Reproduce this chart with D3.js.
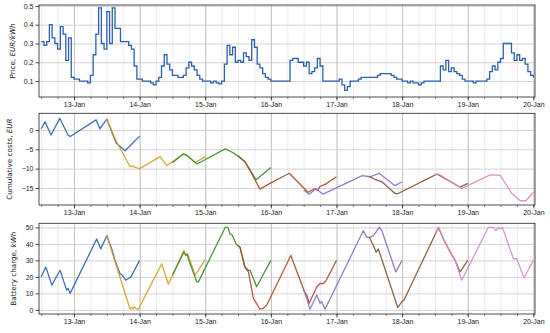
<!DOCTYPE html>
<html>
<head>
<meta charset="utf-8">
<script src="https://cdn.jsdelivr.net/npm/d3@7"></script>
<style>
body { margin: 0; background: #fff; }
svg { font-family: "DejaVu Sans", sans-serif; }
.tick text { font-size: 7px; fill: #222; }
.domain { display: none; }
</style>
</head>
<body>
<svg></svg>
<script>
// hours counted from 12-Jan 12:00
const startTime = new Date(2023, 0, 12, 12);

// hourly price, EUR/kWh
const price = [
  0.31,0.29,0.31,0.40,0.33,0.30,0.27,0.39,0.35,0.21,0.33,0.12,
  0.11,0.11,0.10,0.10,0.10,0.09,0.13,0.24,0.35,0.49,0.30,0.27,
  0.47,0.30,0.49,0.38,0.38,0.31,0.31,0.31,0.29,0.27,0.18,0.11,
  0.11,0.10,0.10,0.10,0.09,0.08,0.10,0.12,0.18,0.24,0.19,0.16,
  0.13,0.13,0.12,0.12,0.13,0.17,0.20,0.18,0.16,0.13,0.11,0.10,
  0.10,0.10,0.09,0.10,0.09,0.085,0.10,0.19,0.29,0.24,0.28,0.20,
  0.21,0.20,0.25,0.23,0.21,0.32,0.28,0.19,0.17,0.14,0.12,0.11,
  0.10,0.10,0.10,0.10,0.10,0.10,0.10,0.21,0.22,0.22,0.20,0.20,
  0.18,0.20,0.14,0.15,0.17,0.22,0.18,0.10,0.10,0.10,0.10,0.10,
  0.10,0.11,0.08,0.05,0.07,0.10,0.10,0.10,0.11,0.12,0.12,0.12,
  0.12,0.12,0.12,0.13,0.14,0.14,0.14,0.14,0.13,0.12,0.11,0.11,
  0.10,0.10,0.09,0.10,0.09,0.09,0.08,0.09,0.10,0.10,0.10,0.10,
  0.10,0.10,0.18,0.16,0.21,0.15,0.17,0.15,0.14,0.13,0.11,0.10,
  0.10,0.10,0.09,0.10,0.10,0.10,0.10,0.11,0.15,0.18,0.16,0.20,
  0.22,0.30,0.30,0.30,0.25,0.21,0.24,0.21,0.22,0.19,0.15,0.13,0.12
];

// optimisation runs, one per day: [hour, value]
const costBlue = [[0,0.3],[1.4,2.1],[3.6,-1.3],[6.8,3.0],[9.8,-1.3],[10.6,-1.7],[20.1,2.6],[21.5,0.3],[24,2.8],[27.4,-3.4],[30.7,-5.4],[36,-1.6]];
const costOrange = [[24,2.8],[27.5,-3],[32.5,-9.5],[33.6,-9.3],[34.3,-9.7],[36,-10],[43.5,-6.9],[46,-9.2],[51.9,-6.3],[53,-6.5],[56.3,-8.4],[60,-6.9]];
const costGreen = [[48,-8.5],[51.9,-6.2],[53,-6.4],[57,-8.8],[67.3,-4.9],[69.1,-5.5],[70.9,-6.2],[74.5,-8.2],[76.4,-10.4],[78.6,-12.9],[84,-9.7]];
const costRed = [[72,-6.6],[74.5,-8.2],[76.4,-10.5],[80,-15.3],[83.7,-13.8],[90.7,-11.2],[97.6,-16.1],[100,-15.2],[101,-15.6],[102,-14.6],[104,-14.0],[108,-12.1]];
const costPurple = [[96,-15.5],[98,-16.6],[100.5,-15.2],[103.1,-16.6],[117.4,-11.8],[120.3,-12.1],[123.6,-11.2],[129.4,-14.4],[132,-13.4]];
const costBrown = [[120,-12.0],[122.1,-12.8],[124.6,-13.4],[129.4,-16.4],[130.4,-16.5],[144.7,-11.4],[153.2,-14.8],[156,-13.8]];
const costPink = [[144,-11.6],[145.3,-11.4],[153.8,-15.1],[164.2,-11.6],[167.8,-11.7],[172.1,-16.4],[175.2,-18.3],[177.3,-18.3],[180,-16.1]];

const chargeBlue = [[0,20],[1.7,26],[3.9,15],[6.9,24],[9.3,12],[9.8,13],[10.6,10],[20.3,43],[21.8,37],[24,45],[25.8,37],[27,30],[28.8,22],[29.7,21],[30.9,18],[31.9,19],[32.8,20],[36,30]];
const chargeOrange = [[24,45],[32.5,0.5],[33.1,1.5],[33.6,0.5],[34.1,2],[34.7,0.8],[35.5,0.3],[44.1,28],[46.5,15.5],[52.2,36],[52.9,33],[53.8,33],[56.3,21],[60,30.5]];
const chargeGreen = [[48,21],[52.2,35],[52.9,33],[53.4,34],[53.8,31],[56.9,17],[57.5,17],[67.3,50],[68.3,50],[69.1,46],[69.8,45.5],[71.3,40],[72.7,38],[74.5,26],[75.8,24],[76.4,24],[78.8,14],[84,30]];
const chargeRed = [[72,39],[72.7,38],[74.5,26],[75.8,23],[77.6,7],[80,0.4],[81.3,1],[82.5,3],[91.3,33],[96.3,11],[97.1,9],[98,4],[100.8,14],[102,16],[103.2,16],[104.1,17.5],[108,30]];
const chargePurple = [[96,12],[97.1,7],[98.3,0.4],[100.8,9],[102,4],[102.6,5],[103.8,0.4],[117.8,48],[119.1,44],[120.3,44],[121.5,45],[123.6,50],[124.6,48],[129.7,23],[132,30]];
const chargeBrown = [[120,44],[121.5,39],[122.5,35],[123.3,37],[130.4,1.4],[131.9,5],[132.7,6],[145.3,50],[147.1,43],[149.6,35],[151.4,30],[153.2,23],[156,30]];
const chargePink = [[144,46],[145.3,50],[147.1,43],[149.6,35],[151.4,30],[153.8,18],[163.5,50],[165.4,50],[166.3,48],[167.2,50],[167.8,49],[168.7,50],[172.7,31],[173.9,31],[176.6,19.5],[180,30]];

const costRuns = [costBlue, costOrange, costGreen, costRed, costPurple, costBrown, costPink];
const chargeRuns = [chargeBlue, chargeOrange, chargeGreen, chargeRed, chargePurple, chargeBrown, chargePink];
const runColors = ["#2d5fae", "#d2a11e", "#3c8a2c", "#a34e2a", "#8b6bc6", "#7b5535", "#d58bc9"];

const priceTicks = [0.1, 0.2, 0.3, 0.4, 0.5];
const costTicks = [-15, -10, -5, 0];
const chargeTicks = [0, 10, 20, 30, 40, 50];

const toDate = h => new Date(+startTime + h * 3600e3);

const svg = d3.select("svg").attr("width", 550).attr("height", 333);

const x = d3.scaleTime()
  .domain([toDate(-0.8), toDate(180.6)])
  .range([39, 535]);

const panels = [
  {top: 5, bottom: 97, y0: 0.015, y1: 0.505, ticks: priceTicks, fmt: d3.format(".1f"), label: ["Price, ", "EUR/kWh"], lx: 15},
  {top: 113.3, bottom: 205, y0: -19.4, y1: 4.3, ticks: costTicks, fmt: d3.format("d"), label: ["Cumulative costs, ", "EUR"], lx: 11.5},
  {top: 223.3, bottom: 314, y0: -2.5, y1: 52.5, ticks: chargeTicks, fmt: d3.format("d"), label: ["Battery charge, ", "kWh"], lx: 16}
];

panels.forEach(p => {
  p.y = d3.scaleLinear().domain([p.y0, p.y1]).range([p.bottom, p.top]);
  const g = svg.append("g");
  const h = p.bottom - p.top;

  // minor grid every 6 hours
  g.append("g")
    .attr("transform", `translate(0,${p.bottom})`)
    .call(d3.axisBottom(x).ticks(d3.timeHour.every(6)).tickSize(-h).tickFormat(""))
    .call(a => a.selectAll(".tick line").attr("stroke", "#e3e3e3").attr("stroke-width", 0.6));
  // minor tick marks
  g.append("g")
    .attr("transform", `translate(0,${p.bottom})`)
    .call(d3.axisBottom(x).ticks(d3.timeHour.every(6)).tickSize(2).tickFormat(""))
    .call(a => a.selectAll(".tick line").attr("stroke", "#333").attr("stroke-width", 0.6));
  // major grid
  g.append("g")
    .attr("transform", `translate(0,${p.bottom})`)
    .call(d3.axisBottom(x).ticks(d3.timeDay.every(1)).tickSize(-h).tickFormat(""))
    .call(a => a.selectAll(".tick line").attr("stroke", "#b8b8b8").attr("stroke-width", 0.8));
  g.append("g")
    .call(d3.axisLeft(p.y).tickValues(p.ticks).tickSize(-(535 - 39)).tickFormat(""))
    .attr("transform", "translate(39,0)")
    .call(a => a.selectAll(".tick line").attr("stroke", "#c8c8c8").attr("stroke-width", 0.8));

  // axes with labels
  g.append("g")
    .attr("transform", `translate(0,${p.bottom})`)
    .call(d3.axisBottom(x).ticks(d3.timeDay.every(1)).tickSize(3.5).tickPadding(2)
      .tickFormat(d3.timeFormat("%d-%b")))
    .call(a => a.selectAll(".tick line").attr("stroke", "#222").attr("stroke-width", 0.8));
  g.append("g")
    .attr("transform", "translate(39,0)")
    .call(d3.axisLeft(p.y).tickValues(p.ticks).tickSize(3.5).tickPadding(2).tickFormat(p.fmt))
    .call(a => a.selectAll(".tick line").attr("stroke", "#222").attr("stroke-width", 0.8));

  const lab = g.append("text")
    .attr("transform", `translate(${p.lx},${(p.top + p.bottom) / 2}) rotate(-90)`)
    .attr("text-anchor", "middle")
    .attr("font-size", 7.2)
    .attr("fill", "#222");
  lab.append("tspan").text(p.label[0]);
  lab.append("tspan").attr("font-style", "italic").text(p.label[1]);

  p.g = g;
});

// price line
const pPrice = panels[0];
pPrice.g.append("path")
  .datum(price)
  .attr("fill", "none")
  .attr("stroke", runColors[0])
  .attr("stroke-width", 1.3)
  .attr("d", d3.line()
    .curve(d3.curveStepAfter)
    .x((d, i) => x(toDate(i)))
    .y(d => pPrice.y(d)));

function drawRuns(p, runs) {
  const line = d3.line().x(d => x(toDate(d[0]))).y(d => p.y(d[1]));
  p.g.selectAll("path.run")
    .data(runs)
    .join("path")
    .attr("class", "run")
    .attr("fill", "none")
    .attr("stroke", (d, i) => runColors[i])
    .attr("stroke-width", 1.3)
    .attr("stroke-opacity", 0.9)
    .attr("stroke-linejoin", "round")
    .attr("d", line);
}
drawRuns(panels[1], costRuns);
drawRuns(panels[2], chargeRuns);

// frames
panels.forEach(p => {
  p.g.append("rect")
    .attr("x", 39).attr("y", p.top)
    .attr("width", 535 - 39).attr("height", p.bottom - p.top)
    .attr("fill", "none").attr("stroke", "#222").attr("stroke-width", 0.8);
});
</script>
</body>
</html>
